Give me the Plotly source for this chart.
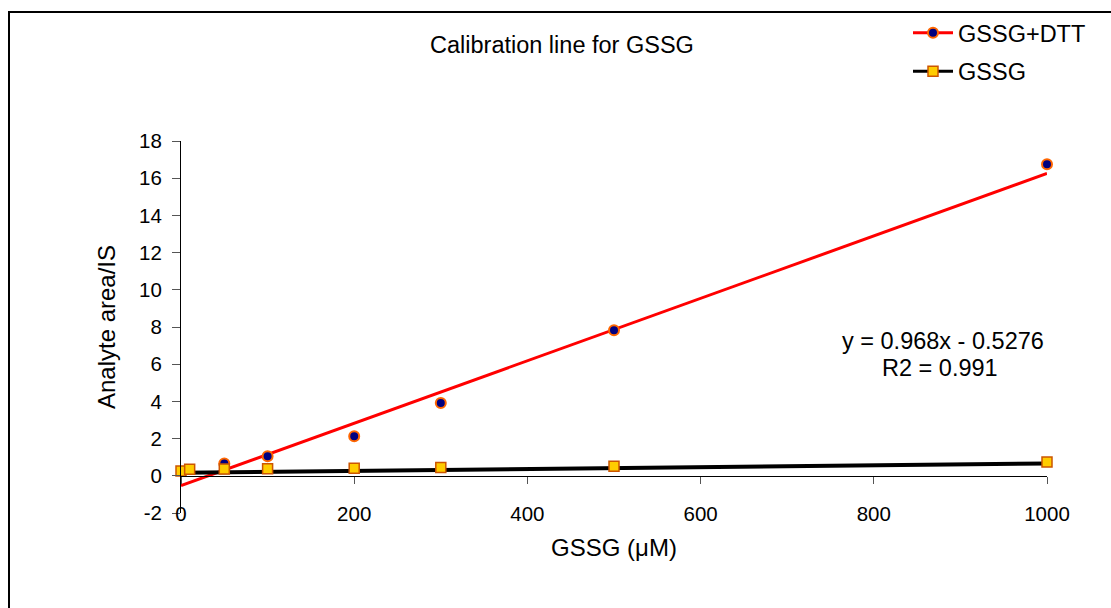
import plotly.graph_objects as go

# ---- data ----
dtt_x = [50, 100, 200, 300, 500, 1000]
dtt_y = [0.66, 1.05, 2.13, 3.92, 7.83, 16.75]

gssg_x = [0, 10, 50, 100, 200, 300, 500, 1000]
gssg_y = [0.26, 0.35, 0.36, 0.38, 0.40, 0.44, 0.51, 0.74]

# trendlines (intercept, slope per uM)
dtt_trend = (-0.5276, 0.01678)
gssg_trend = (0.16, 0.0005)
trend_x = [0, 1000]

x_ticks = [0, 200, 400, 600, 800, 1000]
y_ticks = list(range(-2, 19, 2))
y_ticktext = [str(v) for v in y_ticks]
x_range = [0, 1000]
y_range = [-2, 18]

title_text = "Calibration line for GSSG"
x_title = "GSSG (\u03bcM)"
y_title = "Analyte area/IS"
eq_lines = ["y = 0.968x - 0.5276", "R2 = 0.991"]

# ---- layout geometry ----
W, H = 1111, 608
L, R, T, B = 181, 64, 141, 95
pw, ph = W - L - R, H - T - B
FONT = "Liberation Sans, Arial, sans-serif"
TXT = 23.5

def px_x(p):
    return (p - L) / pw

def px_y(p):
    return (H - B - p) / ph

red = "#FF0000"
navy = "#000080"
orange = "#FF6600"
gold = "#FFCC00"
brown = "#CC5500"

fig = go.Figure()

# trend lines
fig.add_trace(go.Scatter(x=trend_x, y=[dtt_trend[0] + dtt_trend[1] * v for v in trend_x],
                         mode="lines", line=dict(color=red, width=3), showlegend=False,
                         hoverinfo="skip"))
fig.add_trace(go.Scatter(x=trend_x, y=[gssg_trend[0] + gssg_trend[1] * v for v in trend_x],
                         mode="lines", line=dict(color="black", width=4), showlegend=False,
                         hoverinfo="skip"))
# data points
fig.add_trace(go.Scatter(x=dtt_x, y=dtt_y, mode="markers", showlegend=False, cliponaxis=False,
                         marker=dict(symbol="circle", size=10, color=navy,
                                     line=dict(color=orange, width=2))))
fig.add_trace(go.Scatter(x=gssg_x, y=gssg_y, mode="markers", showlegend=False, cliponaxis=False,
                         marker=dict(symbol="square", size=10, color=gold,
                                     line=dict(color=brown, width=1.5))))
# legend entries
fig.add_trace(go.Scatter(x=[None], y=[None], mode="lines+markers", name="GSSG+DTT",
                         legendgroup="a",
                         line=dict(color=red, width=3),
                         marker=dict(symbol="circle", size=10, color=navy,
                                     line=dict(color=orange, width=2))))
fig.add_trace(go.Scatter(x=[None], y=[None], mode="lines+markers", name="GSSG",
                         legendgroup="b",
                         line=dict(color="black", width=3),
                         marker=dict(symbol="square", size=10, color=gold,
                                     line=dict(color=brown, width=1.5))))

zero_pos = (0 - y_range[0]) / (y_range[1] - y_range[0])

fig.update_layout(
    width=W, height=H,
    margin=dict(l=L, r=R, t=T, b=B, autoexpand=False),
    paper_bgcolor="white", plot_bgcolor="white",
    font=dict(family=FONT, size=20, color="black"),
    showlegend=True,
    legend=dict(x=px_x(908), y=px_y(11), xanchor="left", yanchor="top",
                bgcolor="rgba(0,0,0,0)", font=dict(size=TXT),
                traceorder="grouped", tracegroupgap=5, itemwidth=40),
    xaxis=dict(range=x_range, anchor="free", position=zero_pos,
               showline=True, linecolor="black", linewidth=1,
               ticks="outside", ticklen=7, tickcolor="#555555",
               tickvals=x_ticks, showticklabels=False, showgrid=False, zeroline=False),
    xaxis2=dict(range=x_range, overlaying="x", matches="x", anchor="free",
                position=px_y(499), side="bottom",
                showline=False, ticks="", tickvals=x_ticks,
                tickfont=dict(size=20.5), showgrid=False, zeroline=False,
                title=dict(text=x_title, font=dict(size=24), standoff=15)),
    yaxis=dict(range=y_range, tickvals=y_ticks, ticktext=y_ticktext,
               showline=True, linecolor="black",
               linewidth=1, ticks="outside", ticklen=8, tickcolor="#555555",
               tickfont=dict(size=20.5), ticklabelstandoff=6,
               showgrid=False, zeroline=False,
               title=dict(text=y_title, font=dict(size=24), standoff=16)),
    shapes=[dict(type="rect", xref="paper", yref="paper",
                 x0=px_x(9), x1=px_x(1130), y0=px_y(640), y1=px_y(12),
                 line=dict(color="black", width=2), fillcolor="rgba(0,0,0,0)", layer="below")],
    annotations=[
        dict(text=title_text, xref="paper", yref="paper", x=px_x(562), y=px_y(45),
             xanchor="center", yanchor="middle", showarrow=False, font=dict(size=TXT)),
        dict(text=eq_lines[0], xref="paper", yref="paper", x=px_x(943), y=px_y(341),
             xanchor="center", yanchor="middle", showarrow=False, font=dict(size=TXT)),
        dict(text=eq_lines[1], xref="paper", yref="paper", x=px_x(940), y=px_y(368),
             xanchor="center", yanchor="middle", showarrow=False, font=dict(size=TXT)),
    ],
)

# invisible trace on xaxis2 so it renders
fig.add_trace(go.Scatter(x=[None], y=[None], xaxis="x2", showlegend=False, hoverinfo="skip"))

fig.write_html("out.html")
